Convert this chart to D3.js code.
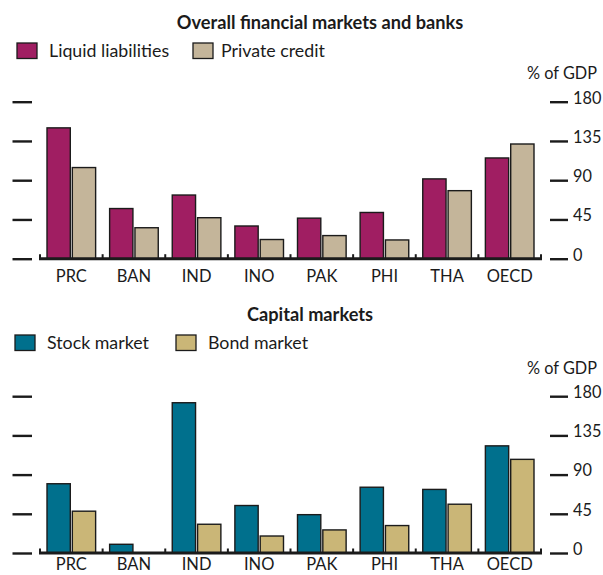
<!DOCTYPE html>
<html>
<head>
<meta charset="utf-8">
<script src="https://cdn.jsdelivr.net/npm/d3@7"></script>
<style>
  html, body { margin: 0; padding: 0; background: #fff; }
  svg { display: block; font-family: Lato, "Open Sans", sans-serif; }
</style>
</head>
<body>
<svg id="chart" width="603" height="575"></svg>
<script>
// Financial depth indicators, % of GDP
const categories = ["PRC", "BAN", "IND", "INO", "PAK", "PHI", "THA", "OECD"];
const liquidLiabilities = [150, 57.5, 73, 37.5, 46.5, 53, 91.5, 115.5];
const privateCredit = [104.5, 35.5, 47, 22, 26.5, 21.5, 78, 131.5];
const stockMarket = [79.5, 10, 172.5, 54.5, 44, 75.5, 73, 123];
const bondMarket = [48, 0, 33, 19.5, 26.5, 31.5, 56, 107.5];
const yTicks = [0, 45, 90, 135, 180];

const panels = [
  {
    title: "Overall financial markets and banks", titleX: 320, titleY: 29,
    series: [
      { name: "Liquid liabilities", values: liquidLiabilities, color: "#A01E62", lx: 17, tx: 49 },
      { name: "Private credit", values: privateCredit, color: "#C4B59A", lx: 193, tx: 221 }
    ],
    legendY: 43, unitY: 79, yBase: 258.7, yTop: 101.7, labelPad: 11.5
  },
  {
    title: "Capital markets", titleX: 310, titleY: 321,
    series: [
      { name: "Stock market", values: stockMarket, color: "#00708D", lx: 15, tx: 47 },
      { name: "Bond market", values: bondMarket, color: "#CAB677", lx: 176, tx: 208 }
    ],
    legendY: 335, unitY: 374, yBase: 553, yTop: 396.2, labelPad: 5.5
  }
];

const svg = d3.select("#chart");
const xLeft = 40, xRight = 541;
const ink = "#1b1b1b";

panels.forEach(p => {
  const g = svg.append("g");

  g.append("text")
    .attr("x", p.titleX).attr("y", p.titleY)
    .attr("text-anchor", "middle")
    .attr("font-weight", "bold").attr("font-size", 18.2)
    .attr("fill", ink).text(p.title);

  // legend
  p.series.forEach(s => {
    g.append("rect")
      .attr("x", s.lx).attr("y", p.legendY).attr("width", 20).attr("height", 15.5)
      .attr("fill", s.color).attr("stroke", ink).attr("stroke-width", 1.3);
    g.append("text")
      .attr("x", s.tx).attr("y", p.legendY + 14)
      .attr("font-size", 17.8).attr("fill", ink).text(s.name);
  });

  g.append("text")
    .attr("x", 597).attr("y", p.unitY)
    .attr("text-anchor", "end").attr("font-size", 16.3)
    .attr("fill", ink).text("% of GDP");

  const y = d3.scaleLinear().domain([0, 180]).range([p.yBase, p.yTop]);
  const x0 = d3.scaleBand().domain(categories).range([xLeft, xRight]);
  const x1 = d3.scaleBand().domain(p.series.map(s => s.name))
    .range([7, x0.bandwidth() - 7]).paddingInner(0.08);

  // left ticks (no labels)
  const left = g.append("g").attr("transform", "translate(32,0)")
    .call(d3.axisLeft(y).tickValues(yTicks).tickSize(19.5).tickFormat(""));
  left.select(".domain").remove();
  left.selectAll(".tick line").attr("stroke", ink).attr("stroke-width", 2.4);

  // right ticks with labels
  const right = g.append("g").attr("transform", "translate(550,0)")
    .call(d3.axisRight(y).tickValues(yTicks).tickSize(18).tickPadding(5));
  right.select(".domain").remove();
  right.selectAll(".tick line").attr("stroke", ink).attr("stroke-width", 2.4);
  right.selectAll(".tick text")
    .attr("dy", "0.08em").attr("fill", ink)
    .attr("font-size", 16.3).attr("font-family", "Lato, sans-serif");

  // bars
  const groups = g.selectAll(".grp").data(categories).enter().append("g")
    .attr("transform", d => `translate(${x0(d)},0)`);
  groups.selectAll("rect")
    .data((d, i) => p.series.map(s => ({ s, v: s.values[i] })))
    .enter().append("rect")
    .filter(d => d.v > 0)
    .attr("x", d => x1(d.s.name))
    .attr("width", x1.bandwidth())
    .attr("y", d => y(d.v))
    .attr("height", d => y(0) - y(d.v))
    .attr("fill", d => d.s.color)
    .attr("stroke", ink).attr("stroke-width", 1.4);

  // category axis
  const bottom = g.append("g").attr("transform", `translate(0,${p.yBase})`)
    .call(d3.axisBottom(x0).tickSize(0).tickPadding(p.labelPad));
  bottom.select(".domain").remove();
  bottom.selectAll(".tick text")
    .attr("fill", ink).attr("font-size", 16.5).attr("font-family", "Lato, sans-serif");

  g.append("line")
    .attr("x1", xLeft - 1).attr("x2", xRight + 1)
    .attr("y1", p.yBase).attr("y2", p.yBase)
    .attr("stroke", ink).attr("stroke-width", 3);

  // small separators between categories
  const seps = categories.map(c => x0(c)).concat([xRight]);
  g.selectAll(".sep").data(seps).enter().append("line")
    .attr("x1", d => d).attr("x2", d => d)
    .attr("y1", p.yBase).attr("y2", p.yBase - 4.5)
    .attr("stroke", ink).attr("stroke-width", 2);
});
</script>
</body>
</html>
